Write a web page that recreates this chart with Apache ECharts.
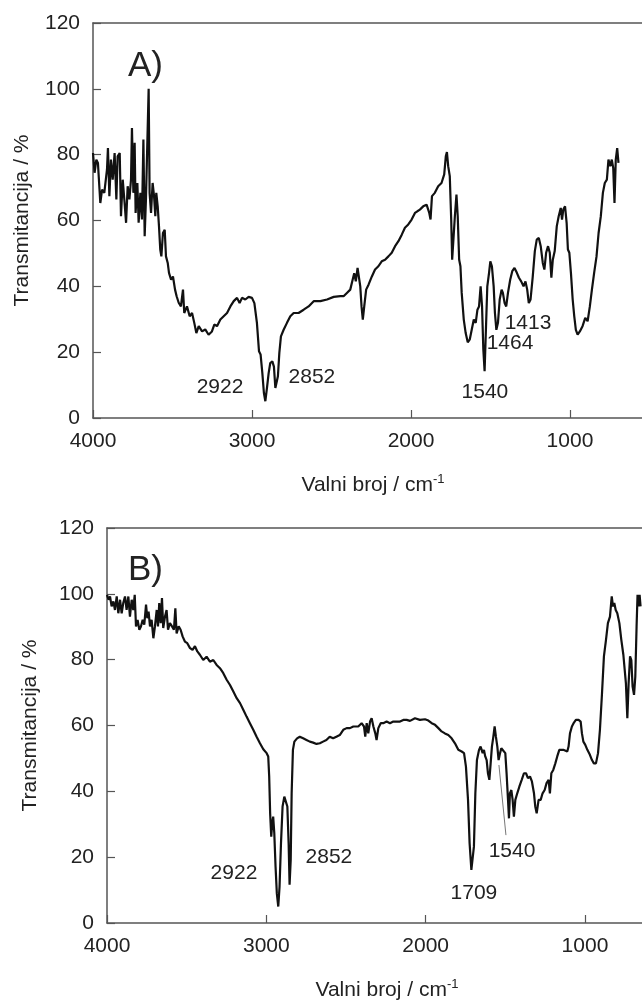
<!DOCTYPE html>
<html>
<head>
<meta charset="utf-8">
<script src="https://cdn.jsdelivr.net/npm/echarts@6/dist/echarts.min.js"></script>
<style>
  html, body { margin: 0; padding: 0; background: #fff; }
  #chart { width: 642px; height: 1003px; }
</style>
</head>
<body>
<div id="chart"></div>
<script>
// panel A spectrum
var wavenumberA = [
  4000,3990,3979,3969,3954,3943,3929,3912,3906,3897,
  3887,3876,3864,3853,3845,3832,3824,3813,3803,3792,
  3782,3771,3761,3755,3746,3738,3732,3721,3713,3702,
  3692,3683,3675,3667,3650,3644,3635,3625,3616,3608,
  3602,3593,3585,3577,3570,3560,3549,3541,3530,3522,
  3509,3497,3484,3474,3461,3447,3434,3426,3409,3392,
  3377,3363,3350,3335,3314,3294,3273,3252,3237,3220,
  3199,3178,3157,3136,3115,3094,3078,3063,3042,3021,
  3000,2985,2969,2956,2946,2935,2925,2916,2906,2895,
  2885,2872,2862,2853,2845,2837,2828,2818,2801,2780,
  2759,2738,2707,2675,2644,2612,2570,2528,2486,2444,
  2424,2403,2382,2367,2357,2347,2336,2328,2319,2311,
  2303,2294,2282,2267,2246,2226,2205,2184,2163,2142,
  2121,2100,2079,2058,2038,2017,1996,1975,1960,1944,
  1923,1902,1885,1877,1868,1850,1829,1808,1791,1781,
  1774,1766,1756,1747,1741,1733,1724,1714,1706,1697,
  1689,1681,1668,1656,1643,1630,1618,1605,1593,1582,
  1572,1562,1553,1545,1537,1528,1520,1509,1501,1491,
  1480,1472,1463,1453,1442,1430,1422,1411,1401,1390,
  1376,1363,1349,1334,1321,1307,1292,1280,1269,1259,
  1248,1234,1221,1209,1196,1184,1171,1161,1150,1138,
  1127,1117,1108,1096,1083,1071,1058,1050,1042,1031,
  1021,1013,1004,994,983,973,963,952,938,921,
  904,889,875,862,848,833,820,806,793,781,
  768,758,747,737,728,720,712,703,695
];
var transmittanceA = [
  80.5,74.5,78.5,77.5,65.3,69.4,68.4,75.5,82.0,67.4,
  78.5,72.4,80.5,66.4,79.5,80.5,61.3,72.4,66.4,59.3,
  70.4,66.4,72.4,88.1,68.4,83.6,62.3,71.4,59.3,68.4,
  60.3,84.6,55.2,66.4,100.0,68.4,62.3,71.4,67.4,61.3,
  68.4,64.3,58.3,51.2,49.1,56.2,57.2,49.1,47.1,44.1,
  42.0,43.0,39.0,37.0,35.0,33.9,39.0,31.9,33.9,30.9,
  31.9,28.9,25.8,27.9,26.3,26.9,25.3,26.3,28.4,27.9,
  29.9,30.9,31.9,33.9,35.5,36.5,34.9,36.5,36.0,36.8,
  36.5,34.9,28.9,20.3,19.3,13.7,7.6,5.1,9.1,13.7,
  16.7,17.2,15.6,9.1,8.6,12.7,19.8,24.8,26.8,28.9,
  30.9,31.9,31.9,32.9,33.9,35.5,35.5,36.0,36.8,37.0,
  37.0,38.0,39.0,42.0,44.0,41.5,45.6,46.1,40.0,33.9,
  29.9,33.9,39.0,40.5,43.0,45.1,46.1,47.6,48.1,49.1,
  50.2,52.2,53.7,55.7,57.8,58.8,60.3,62.3,62.8,63.3,
  64.3,64.8,62.3,60.3,67.4,68.4,70.4,71.4,74.0,79.5,
  80.8,76.5,73.5,60.3,48.1,48.1,61.3,67.9,61.3,48.1,
  46.1,38.0,29.9,25.8,23.0,23.9,26.8,29.9,28.9,32.9,
  33.9,40.0,33.9,20.8,14.2,27.9,40.0,44.1,47.6,46.1,
  40.0,31.9,26.8,28.9,36.0,39.0,38.0,34.9,33.9,38.0,
  42.0,44.6,45.6,44.1,42.6,41.5,40.0,41.5,39.0,34.9,
  36.0,43.0,50.7,54.2,54.7,52.2,47.1,45.1,50.2,52.2,
  50.2,42.6,48.1,50.7,58.3,61.3,63.8,60.3,63.3,64.3,
  59.3,51.2,50.2,44.1,36.0,30.9,26.8,25.3,26.3,27.9,
  30.4,29.4,33.9,39.0,44.1,49.1,56.2,61.3,68.4,71.4,
  72.4,78.5,76.5,78.5,76.0,65.3,78.5,82.0,77.5
];

// panel B spectrum
var wavenumberB = [
  4000,3990,3981,3971,3960,3950,3939,3929,3918,3908,
  3898,3887,3877,3866,3856,3845,3835,3826,3818,3808,
  3797,3787,3776,3766,3755,3747,3739,3730,3720,3709,
  3699,3688,3680,3672,3663,3655,3647,3636,3626,3617,
  3605,3592,3580,3571,3563,3550,3538,3525,3511,3496,
  3479,3463,3448,3433,3417,3396,3375,3354,3333,3312,
  3291,3270,3249,3228,3207,3186,3165,3144,3124,3103,
  3082,3061,3040,3019,2998,2988,2982,2976,2969,2963,
  2957,2950,2942,2934,2925,2917,2908,2898,2887,2877,
  2868,2860,2854,2847,2841,2833,2824,2807,2790,2769,
  2748,2727,2706,2685,2664,2644,2623,2602,2581,2560,
  2539,2517,2496,2475,2454,2423,2402,2387,2379,2370,
  2360,2349,2339,2328,2316,2308,2297,2282,2266,2245,
  2224,2203,2182,2161,2140,2119,2098,2067,2036,2004,
  1983,1962,1941,1920,1900,1879,1858,1837,1816,1795,
  1774,1759,1747,1734,1724,1713,1705,1697,1688,1678,
  1665,1655,1642,1634,1626,1617,1609,1600,1592,1584,
  1575,1567,1559,1550,1542,1533,1525,1513,1500,1492,
  1483,1477,1471,1462,1454,1446,1437,1425,1412,1397,
  1383,1370,1358,1345,1333,1320,1312,1303,1291,1278,
  1266,1253,1241,1228,1220,1211,1199,1186,1174,1161,
  1149,1136,1124,1111,1103,1094,1082,1069,1057,1040,
  1027,1019,1010,998,985,969,956,944,931,918,
  906,893,881,868,856,843,832,824,816,807,
  797,784,772,759,751,743,734,726,717,709,
  701,692,684,676,670,663,657,651
];
var transmittanceB = [
  99.7,98.2,99.2,96.2,97.7,95.1,99.2,94.1,98.2,94.1,
  97.2,99.2,95.1,99.2,93.1,98.2,95.1,99.7,90.1,92.1,
  89.1,90.1,92.1,90.6,96.7,92.6,94.6,90.1,92.1,86.5,
  90.1,95.1,90.1,97.2,91.1,98.7,89.6,93.1,95.1,89.1,
  91.1,90.1,89.1,95.6,88.0,90.1,89.1,87.0,85.5,85.0,
  83.5,83.0,84.1,82.5,81.5,79.9,80.9,79.4,79.9,78.4,
  77.4,75.9,73.9,72.3,70.3,68.3,66.8,64.7,62.7,60.7,
  58.7,56.6,54.6,52.8,51.6,50.6,44.5,33.3,26.2,30.3,
  32.3,27.3,17.1,9.0,5.0,11.0,24.2,35.4,38.4,37.9,
  35.4,24.2,11.6,19.1,39.4,52.6,55.1,56.1,56.6,56.1,
  55.6,55.1,54.8,54.4,54.6,55.1,55.6,56.6,56.1,56.6,
  57.1,58.7,59.2,59.2,59.7,59.7,60.7,59.7,56.6,60.7,
  57.6,61.2,62.2,59.7,57.6,55.6,59.2,60.7,60.7,61.2,
  60.7,61.2,61.2,61.2,61.7,61.7,61.4,62.2,61.7,61.9,
  61.5,60.7,60.2,59.2,58.2,57.6,57.1,56.1,54.6,52.6,
  52.1,51.6,47.5,37.4,24.2,16.1,15.6,23.2,39.4,49.5,
  52.6,53.6,51.6,52.6,50.6,49.5,45.5,43.5,48.5,53.6,
  56.6,59.7,56.6,53.6,49.5,51.6,53.1,53.1,51.6,45.5,
  37.4,31.8,39.4,40.4,37.4,32.3,37.4,39.4,41.4,43.5,
  45.5,45.5,44.0,44.5,43.0,39.4,35.4,33.3,37.4,37.4,
  39.4,40.4,42.5,43.5,39.4,45.5,46.5,48.5,50.6,52.6,
  53.1,52.6,53.1,52.1,53.6,57.6,59.7,60.9,61.7,61.7,
  61.2,57.6,55.1,54.1,52.6,51.1,49.5,48.5,48.5,51.6,
  58.7,69.8,81.0,86.0,91.1,93.1,99.2,96.2,97.2,95.1,
  94.1,91.1,86.1,81.5,81.0,72.8,62.2,72.8,81.0,79.9,
  71.8,69.3,74.9,90.1,99.7,96.2,99.7,96.2
];

// peak annotations: text, wavenumber, transmittance where the text sits
var peakTextA = ['2922', '2852', '1540', '1464', '1413'];
var peakWnA   = [3201, 2623, 1535, 1377, 1264];
var peakTA    = [9.4, 12.5, 7.9, 22.8, 28.9];

var peakTextB = ['2922', '2852', '1709', '1540'];
var peakWnB   = [3203, 2607, 1697, 1458];
var peakTB    = [15.2, 20.1, 9.1, 21.9];

// leader line for 1540 in B
var leaderB = [[1540, 48], [1496, 26.7]];

var xTicks = [1000, 2000, 3000, 4000];

var font = 'Liberation Sans, Arial, Helvetica, sans-serif';
var axisColor = '#555';
var textColor = '#222';

function zip(xs, ys) {
  return xs.map(function (x, i) { return [x, ys[i]]; });
}
function labels(texts, xs, ys) {
  return texts.map(function (t, i) { return { name: t, value: [xs[i], ys[i]] }; });
}

// the plot frame runs past the right edge of the picture, so the axis stops where the canvas does
function xAxisFor(idx, xmin, shift) {
  return {
    type: 'value',
    gridIndex: idx,
    min: xmin,
    max: 4000,
    inverse: true,
    axisLine: { lineStyle: { color: axisColor, width: 1.5 } },
    axisTick: { inside: true, length: 8, customValues: xTicks, lineStyle: { color: axisColor, width: 1.2 } },
    axisLabel: {
      customValues: xTicks, fontSize: 21, margin: 13, color: textColor, fontFamily: font,
      formatter: function (v) { return String(v); }
    },
    splitLine: { show: false },
    name: '{n|Valni broj / cm}{s|-1}',
    nameLocation: 'middle',
    nameGap: 55,
    nameTextStyle: {
      fontFamily: font,
      padding: [0, 0, 0, shift],
      rich: {
        n: { fontSize: 21, lineHeight: 24, color: textColor, fontFamily: font },
        s: { fontSize: 13, lineHeight: 12, color: textColor, fontFamily: font, verticalAlign: 'top' }
      }
    }
  };
}

// top edge of the frame
function topAxisFor(idx, xmin) {
  return {
    type: 'value',
    gridIndex: idx,
    position: 'top',
    min: xmin,
    max: 4000,
    inverse: true,
    axisLine: { show: true, lineStyle: { color: axisColor, width: 1.5 } },
    axisTick: { show: false },
    axisLabel: { show: false },
    splitLine: { show: false }
  };
}

function yAxisFor(idx, gap) {
  return {
    type: 'value',
    gridIndex: idx,
    min: 0,
    max: 120,
    interval: 20,
    axisLine: { show: true, lineStyle: { color: axisColor, width: 1.5 } },
    axisTick: { show: true, inside: true, length: 8, lineStyle: { color: axisColor, width: 1.2 } },
    axisLabel: { fontSize: 21, margin: 13, color: textColor, fontFamily: font },
    splitLine: { show: false },
    name: 'Transmitancija / %',
    nameLocation: 'middle',
    nameGap: gap,
    nameTextStyle: { fontSize: 21, color: textColor, fontFamily: font }
  };
}

function peakSeries(idx, data) {
  return {
    type: 'scatter',
    xAxisIndex: idx,
    yAxisIndex: idx,
    data: data,
    symbolSize: 0.01,
    itemStyle: { color: textColor, opacity: 1 },
    silent: true,
    label: {
      show: true,
      position: [0, 0],
      align: 'center',
      verticalAlign: 'middle',
      formatter: '{b}',
      fontSize: 21,
      color: textColor,
      opacity: 1,
      fontFamily: font
    },
    z: 5
  };
}

var chart = echarts.init(document.getElementById('chart'), null, { renderer: 'canvas' });
chart.setOption({
  animation: false,
  backgroundColor: '#fff',
  title: [
    { text: 'A)', left: 123, top: 44, textStyle: { fontSize: 35, fontWeight: 'normal', color: textColor, fontFamily: font } },
    { text: 'B)', left: 123, top: 548, textStyle: { fontSize: 35, fontWeight: 'normal', color: textColor, fontFamily: font } }
  ],
  grid: [
    { left: 93, top: 23, width: 549, height: 395 },
    { left: 107, top: 528, width: 535, height: 395 }
  ],
  xAxis: [xAxisFor(0, 547, 11), xAxisFor(1, 642, 25), topAxisFor(0, 547), topAxisFor(1, 642)],
  yAxis: [yAxisFor(0, 60), yAxisFor(1, 66)],
  series: [
    {
      type: 'line',
      xAxisIndex: 0,
      yAxisIndex: 0,
      data: zip(wavenumberA, transmittanceA),
      showSymbol: false,
      lineStyle: { color: '#111', width: 2.2 },
      silent: true
    },
    {
      type: 'line',
      xAxisIndex: 1,
      yAxisIndex: 1,
      data: zip(wavenumberB, transmittanceB),
      showSymbol: false,
      lineStyle: { color: '#111', width: 2.2 },
      silent: true,
      markLine: {
        silent: true,
        symbol: ['none', 'none'],
        label: { show: false },
        lineStyle: { color: '#777', width: 1, type: 'solid' },
        data: [[{ coord: leaderB[0] }, { coord: leaderB[1] }]]
      }
    },
    peakSeries(0, labels(peakTextA, peakWnA, peakTA)),
    peakSeries(1, labels(peakTextB, peakWnB, peakTB))
  ]
});
</script>
</body>
</html>
